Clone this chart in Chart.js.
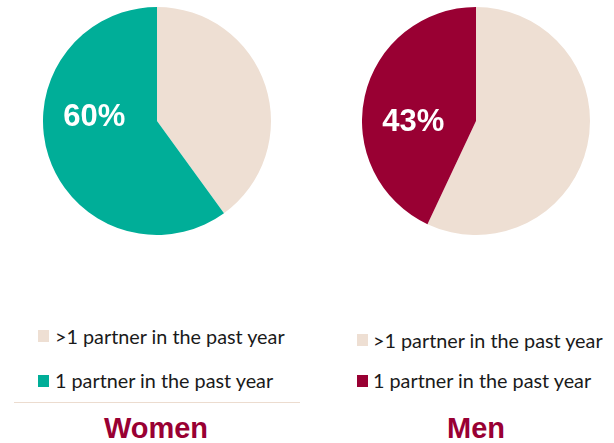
<!DOCTYPE html>
<html>
<head>
<meta charset="utf-8">
<script src="https://cdn.jsdelivr.net/npm/chart.js@4/dist/chart.umd.min.js"></script>
<style>
  html, body { margin:0; padding:0; background:#fff; }
  body { width:614px; height:443px; position:relative; overflow:hidden; font-family: Lato, "Liberation Sans", sans-serif; }
  .cv { position:absolute; width:228px; height:228px; }
  .leg { position:absolute; white-space:nowrap; font-size:19.8px; color:#1a1a1a; line-height:1; }
  .sw { position:absolute; width:11px; height:12px; }
  .ttl { position:absolute; font-family:"Liberation Sans", Arial, sans-serif; font-weight:bold; font-size:29px; color:#990033; transform:translateX(-50%); white-space:nowrap; line-height:1; }
  .sep { position:absolute; left:14px; width:286px; top:402px; height:1px; background:#ecdccf; }
</style>
</head>
<body>
<div class="cv" style="left:43px;top:7px;"><canvas id="women"></canvas></div>
<div class="cv" style="left:362px;top:7px;"><canvas id="men"></canvas></div>

<div class="sw" style="left:38px;top:330px;background:#eedfd3"></div>
<div class="leg" id="wl1" style="left:55px;top:327px;"></div>
<div class="sw" style="left:38px;top:375px;background:#00ae98"></div>
<div class="leg" id="wl2" style="left:55px;top:371px;"></div>
<div class="sep"></div>
<div class="ttl" id="wt" style="left:156px;top:414px;"></div>

<div class="sw" style="left:357px;top:334px;background:#eedfd3"></div>
<div class="leg" id="ml1" style="left:373px;top:331px;"></div>
<div class="sw" style="left:357px;top:375px;background:#990033"></div>
<div class="leg" id="ml2" style="left:373px;top:371px;"></div>
<div class="ttl" id="mt" style="left:476px;top:414px;"></div>

<script>
const categories = [">1 partner in the past year", "1 partner in the past year"];
const womenValues = [40, 60];
const menValues = [57, 43];
const groupTitles = ["Women", "Men"];
const womenColors = ["#eedfd3", "#00ae98"];
const menColors = ["#eedfd3", "#990033"];

document.getElementById('wl1').textContent = categories[0];
document.getElementById('wl2').textContent = categories[1];
document.getElementById('ml1').textContent = categories[0];
document.getElementById('ml2').textContent = categories[1];
document.getElementById('wt').textContent = groupTitles[0];
document.getElementById('mt').textContent = groupTitles[1];

const pctLabel = {
  id: 'pctLabel',
  afterDatasetsDraw(chart, args, opts) {
    const meta = chart.getDatasetMeta(0);
    const arc = meta.data[1];
    const r = arc.outerRadius;
    const ctx = chart.ctx;
    ctx.save();
    ctx.fillStyle = '#ffffff';
    ctx.font = 'bold 31px "Liberation Sans", Arial, sans-serif';
    ctx.textAlign = 'center';
    ctx.textBaseline = 'middle';
    const v = chart.data.datasets[0].data[1];
    ctx.fillText(v + '%', arc.x + opts.dx * r, arc.y + opts.dy * r);
    ctx.restore();
  }
};

function makePie(id, values, colors, dx, dy) {
  return new Chart(document.getElementById(id), {
    type: 'pie',
    data: {
      labels: categories,
      datasets: [{ data: values, backgroundColor: colors, borderWidth: 0 }]
    },
    options: {
      responsive: true,
      maintainAspectRatio: false,
      animation: false,
      layout: { padding: 0 },
      plugins: {
        legend: { display: false },
        tooltip: { enabled: false },
        pctLabel: { dx: dx, dy: dy }
      }
    },
    plugins: [pctLabel]
  });
}

makePie('women', womenValues, womenColors, -0.55, -0.03);
makePie('men', menValues, menColors, -0.55, 0.01);
</script>
</body>
</html>
